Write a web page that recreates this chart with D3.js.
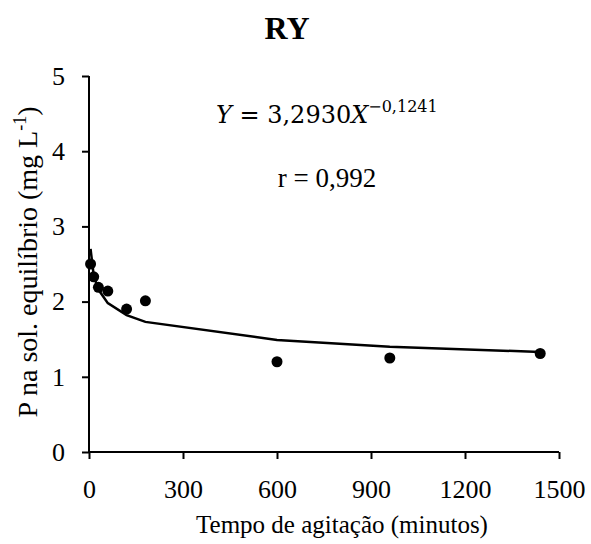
<!DOCTYPE html>
<html>
<head>
<meta charset="utf-8">
<script src="https://cdn.jsdelivr.net/npm/d3@7"></script>
<style>
  body { margin: 0; background: #fff; }
  svg { font-family: "Liberation Serif", "Times New Roman", serif; }
</style>
</head>
<body>
<svg id="chart" width="591" height="544"></svg>
<script>
// observed data (minutes, mg/L)
const tempo = [5, 15, 30, 60, 120, 180, 600, 960, 1440];
const pSol = [2.50, 2.33, 2.19, 2.14, 1.90, 2.01, 1.20, 1.25, 1.31];
// fitted power curve
const pAjuste = [2.70, 2.35, 2.16, 1.98, 1.82, 1.73, 1.49, 1.40, 1.33];
const xTicks = [0, 300, 600, 900, 1200, 1500];
const yTicks = [0, 1, 2, 3, 4, 5];

const svg = d3.select("#chart");
const plotLeft = 89, plotRight = 559, plotTop = 76, plotBottom = 452;

const x = d3.scaleLinear().domain([0, 1500]).range([plotLeft, plotRight]);
const y = d3.scaleLinear().domain([0, 5]).range([plotBottom, plotTop]);

// title
svg.append("text")
    .attr("x", 287).attr("y", 39)
    .attr("text-anchor", "middle")
    .style("font-size", "32px").style("font-weight", "bold")
    .text("RY");

// axes
const xAxis = svg.append("g")
    .attr("transform", `translate(0,${plotBottom})`)
    .call(d3.axisBottom(x).tickValues(xTicks).tickFormat(d => d).tickSize(7).tickPadding(21));
const yAxis = svg.append("g")
    .attr("transform", `translate(${plotLeft},0)`)
    .call(d3.axisLeft(y).tickValues(yTicks).tickFormat(d => d).tickSize(7).tickPadding(17));

[xAxis, yAxis].forEach(g => {
    g.select(".domain").attr("stroke", "#000").attr("stroke-width", 2);
    g.selectAll(".tick line").attr("stroke", "#000").attr("stroke-width", 2);
    g.selectAll(".tick text")
        .style("font-family", "Liberation Serif")
        .style("font-size", "26px")
        .attr("fill", "#000");
});
// plain axis lines, no outer ticks
xAxis.select(".domain").attr("d", `M${plotLeft},0H${plotRight}`);
yAxis.select(".domain").attr("d", `M0,${plotBottom}V${plotTop}`);

// axis titles
svg.append("text")
    .attr("x", 342).attr("y", 533)
    .attr("text-anchor", "middle")
    .style("font-size", "25px")
    .text("Tempo de agitação (minutos)");

const yl = svg.append("text")
    .attr("transform", "translate(37,262) rotate(-90)")
    .attr("text-anchor", "middle")
    .style("font-size", "28px");
yl.append("tspan").text("P na sol. equilíbrio (mg L");
yl.append("tspan").attr("dy", -11).style("font-size", "18px").text("-1");
yl.append("tspan").attr("dy", 11).text(")");

// fitted curve
const line = d3.line()
    .x((d, i) => x(tempo[i]))
    .y(d => y(d));
svg.append("path")
    .datum(pAjuste)
    .attr("d", line)
    .attr("fill", "none")
    .attr("stroke", "#000")
    .attr("stroke-width", 2.5);

// points
svg.append("g").selectAll("circle")
    .data(pSol)
    .join("circle")
    .attr("cx", (d, i) => x(tempo[i]))
    .attr("cy", d => y(d))
    .attr("r", 5.5)
    .attr("fill", "#000");

// equation
const eq = svg.append("text")
    .attr("x", 216).attr("y", 123)
    .style("font-size", "24px")
    .style("font-family", "DejaVu Serif, serif");
eq.append("tspan").style("font-style", "italic").text("Y");
eq.append("tspan").text(" = 3,2930");
eq.append("tspan").style("font-style", "italic").text("X");
eq.append("tspan").attr("dy", -11).style("font-size", "16px").text("−0,1241");

svg.append("text")
    .attr("x", 327).attr("y", 187)
    .attr("text-anchor", "middle")
    .style("font-size", "27px")
    .text("r = 0,992");
</script>
</body>
</html>
